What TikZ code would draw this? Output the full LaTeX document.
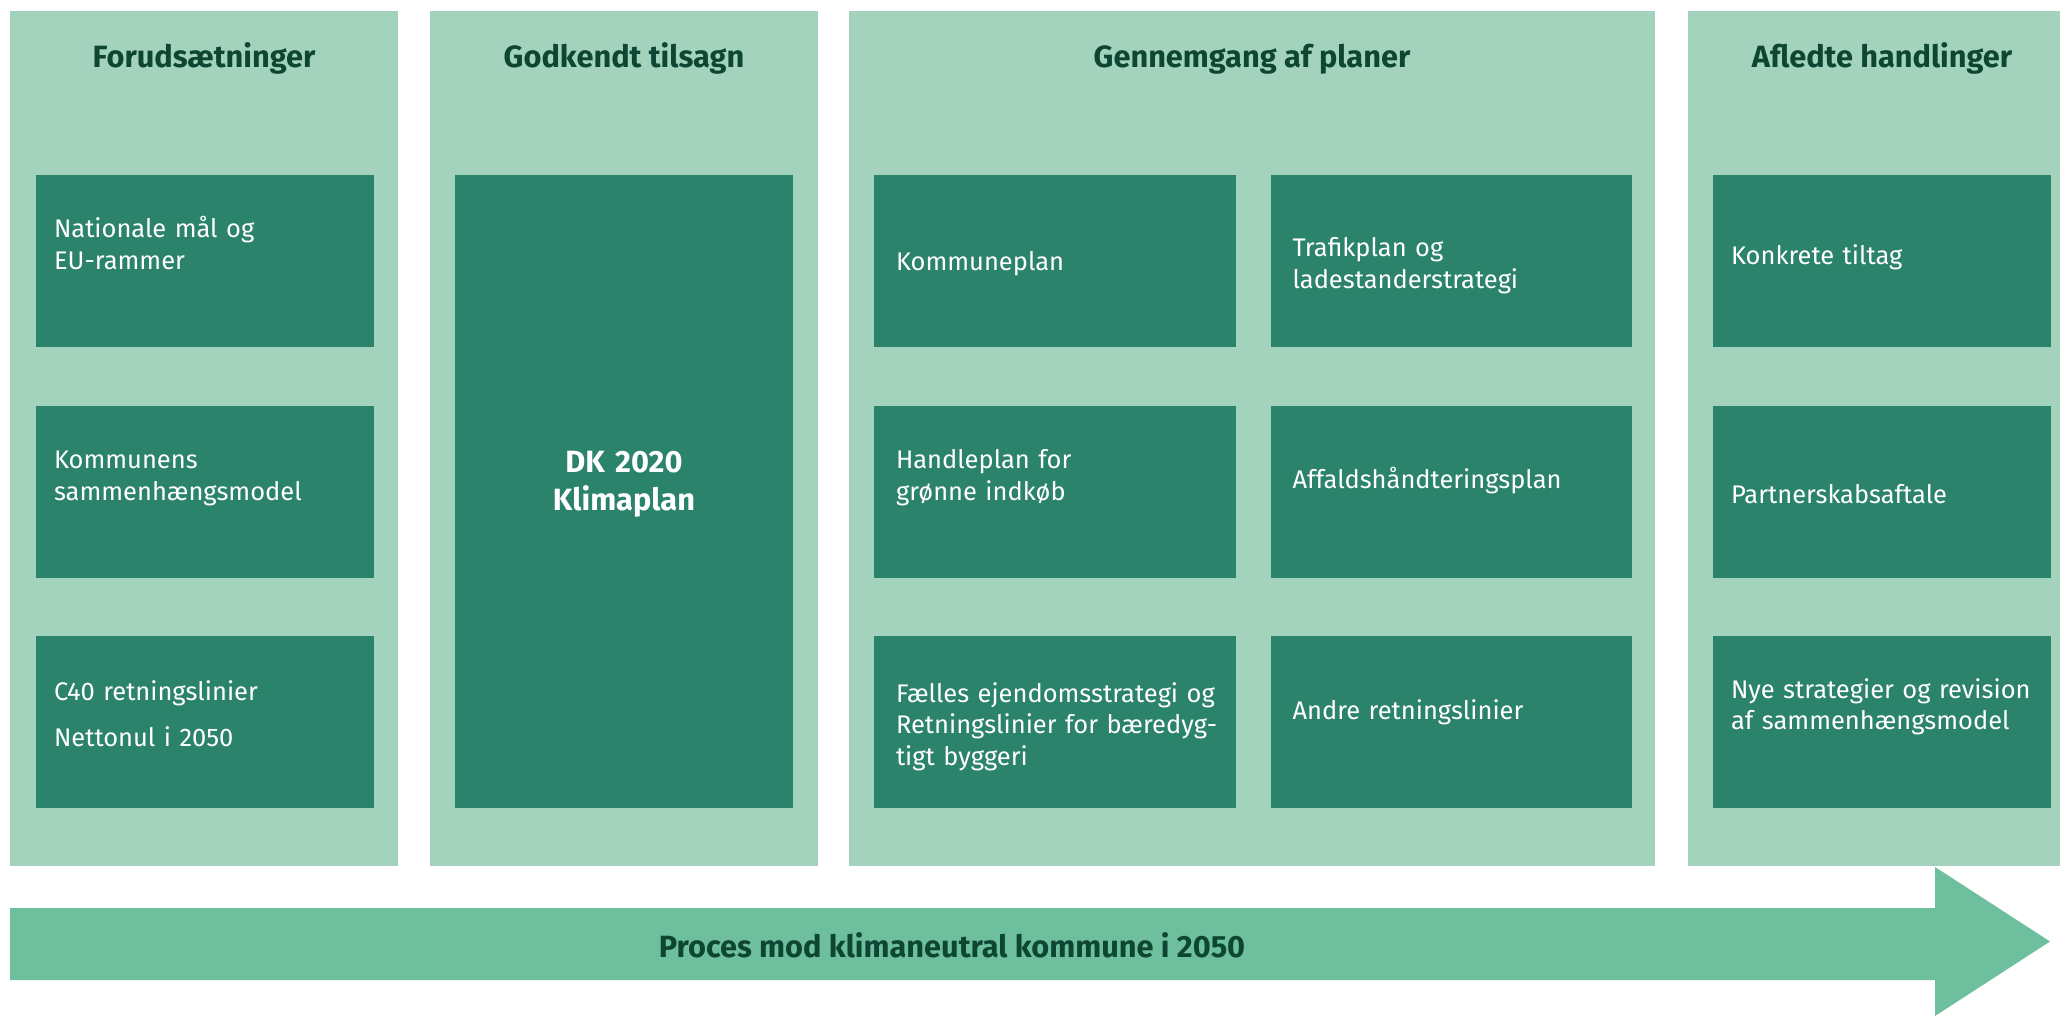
\documentclass[tikz,border=0pt]{standalone}
\usepackage{fontspec}
\setmainfont{Fira Sans}
\usetikzlibrary{positioning}

\definecolor{colbg}{HTML}{A3D3BC}
\definecolor{boxbg}{HTML}{2C836C}
\definecolor{arrowbg}{HTML}{6DBF9D}
\definecolor{darktxt}{HTML}{0E4634}

\begin{document}
\begin{tikzpicture}[x=0.02cm, y=-0.02cm,
    column/.style={fill=colbg},
    heading/.style={text=darktxt, anchor=base, inner sep=0pt,
      font=\bfseries\fontsize{17.5}{21}\selectfont},
    plan/.style={fill=boxbg, text=white, inner xsep=0.36cm, inner ysep=0pt,
      minimum height=3.44cm, text width=#1, align=left,
      font=\fontsize{14.5}{18.2}\selectfont},
    plan/.default=6.04cm,
    wideplan/.style={plan=6.36cm, inner xsep=0.44cm},
    lift/.style={text height=0pt, text depth=#1},
    drop/.style={text height=#1, text depth=0pt}]
        \useasboundingbox (0,0) rectangle (2060,1016);

        % Columns.
        \fill[column] (10,11) rectangle (398,866);
        \fill[column] (430,11) rectangle (818,866);
        \fill[column] (849,11) rectangle (1655,866);
        \fill[column] (1688,11) rectangle (2060,866);

        \node[heading] (t1) at (204,68) {Forudsætninger};
        \node[heading] (t2) at (624,68) {Godkendt tilsagn};
        \node[heading] (t3) at (1252,68) {Gennemgang af planer};
        \node[heading] (t4) at (1882,68) {Afledte handlinger};

        % Forudsaetninger
        \node[plan, lift=0.92cm] (nat) at (205,261) {Nationale mål og\\EU-rammer};
        \node[plan, lift=0.94cm] (sam) at (205,492) {Kommunens\\sammenhængsmodel};
        \node[plan, lift=0.88cm] (c40) at (205,722) {C40 retningslinier\\[8.4pt]Nettonul i 2050};

        % Godkendt tilsagn
        \node[plan, lift=0.76cm, minimum height=12.66cm, align=center,
          font=\bfseries\fontsize{17.5}{21.4}\selectfont] (dk) at (624,491.5) {DK 2020\\Klimaplan};

        % Gennemgang af planer
        \node[wideplan, drop=0.40cm] (kom) at (1055,261) {Kommuneplan};
        \node[wideplan, lift=0.16cm] (trafik) at (1451.5,261) {Trafikplan og\\ladestanderstrategi};
        \node[wideplan, lift=0.95cm] (indkob) at (1055,492) {Handleplan for\\grønne indkøb};
        \node[wideplan, lift=0.15cm] (affald) at (1451.5,492) {Affaldshåndteringsplan};
        \node[wideplan, lift=0.80cm] (ejendom) at (1055,722) {\mbox{Fælles ejendomsstrategi og}\\\mbox{Retningslinier for bæredyg-}\\tigt byggeri};
        \node[wideplan, lift=0.10cm] (andre) at (1451.5,722) {Andre retningslinier};

        % Afledte handlinger
        \node[plan, drop=0.14cm] (tiltag) at (1882,261) {Konkrete tiltag};
        \node[plan, drop=0.48cm] (partner) at (1882,492) {Partnerskabsaftale};
        \node[plan, lift=0.96cm] (nye) at (1882,722) {Nye strategier og revision\\af sammenhængsmodel};

        % Arrow.
        \fill[arrowbg] (10,908) -- (1935,908) -- (1935,867) -- (2050,941.5)
          -- (1935,1016) -- (1935,980) -- (10,980) -- cycle;
        \node[heading] (proces) at (952,957) {Proces mod klimaneutral kommune i 2050};
\end{tikzpicture}
\end{document}
